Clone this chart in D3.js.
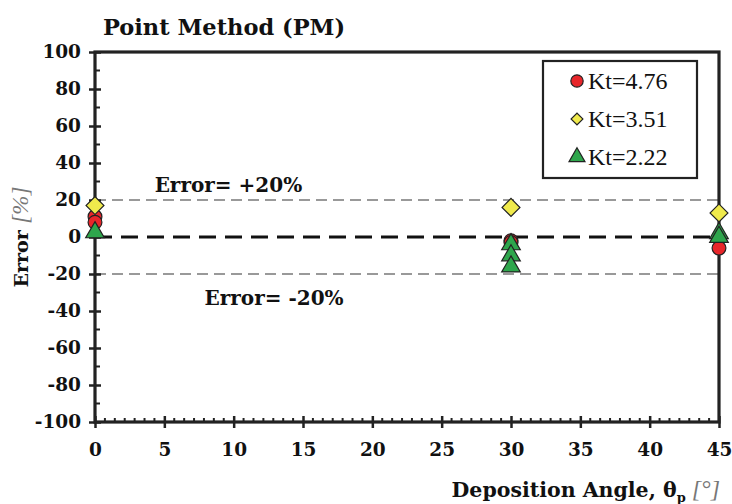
<!DOCTYPE html>
<html>
<head>
<meta charset="utf-8">
<script src="https://cdn.jsdelivr.net/npm/d3@7"></script>
<style>
  body { margin: 0; background: #fff; }
  text { font-family: "Liberation Serif", "Times New Roman", serif; }
  .bold { font-family: "DejaVu Serif", serif; font-weight: bold; }
</style>
</head>
<body>
<div id="chart"></div>
<script>
// Values
const xTicks = [0, 5, 10, 15, 20, 25, 30, 35, 40, 45];
const yTicks = [-100, -80, -60, -40, -20, 0, 20, 40, 60, 80, 100];

const kt476 = [[0, 11], [0, 8], [30, -2], [30, -3], [45, -6]];
const kt351 = [[0, 17], [30, 16], [45, 13]];
const kt222 = [[0, 2.5], [30, -4], [30, -10], [30, -16], [45, 2], [45, 0]];

const series = [
  { name: "Kt=4.76", data: kt476, shape: "circle", fill: "#e8262a" },
  { name: "Kt=3.51", data: kt351, shape: "diamond", fill: "#f0ea4c" },
  { name: "Kt=2.22", data: kt222, shape: "triangle", fill: "#2ea64c" }
];

let svg = d3.select("#chart").append("svg")
  .attr("width", 732)
  .attr("height", 504);

let margins = { top: 52, right: 13, bottom: 82, left: 95 };
let cw = 732 - margins.left - margins.right;
let ch = 504 - margins.top - margins.bottom;

let x = d3.scaleLinear().domain([0, 45]).range([0, cw]);
let y = d3.scaleLinear().domain([-100, 100]).range([ch, 0]);

let g = svg.append("g")
  .attr("transform", "translate(" + margins.left + "," + margins.top + ")");

// Error bands +/-20 (grey dashed)
[20, -20].forEach(v => {
  g.append("line")
    .attr("x1", 0).attr("x2", cw)
    .attr("y1", y(v)).attr("y2", y(v))
    .attr("stroke", "#999")
    .attr("stroke-width", 2.2)
    .attr("stroke-dasharray", "11,6");
});
// zero line
g.append("line")
  .attr("x1", 0).attr("x2", cw)
  .attr("y1", y(0)).attr("y2", y(0))
  .attr("stroke", "#111")
  .attr("stroke-width", 3.2)
  .attr("stroke-dasharray", "17,9");

g.append("text").attr("class", "bold")
  .attr("x", x(4.3)).attr("y", y(20) - 8)
  .attr("font-size", 20)
  .attr("fill", "#111")
  .text("Error= +20%");
g.append("text").attr("class", "bold")
  .attr("x", x(7.9)).attr("y", y(-20) + 31)
  .attr("font-size", 20)
  .attr("fill", "#111")
  .text("Error= -20%");

// Minor ticks (inside)
let xMinor = d3.range(0, 45, 5 / 7).filter((d, i) => i % 7 !== 0);
xMinor.forEach(d => {
  g.append("line")
    .attr("x1", x(d)).attr("x2", x(d))
    .attr("y1", ch).attr("y2", ch - 4)
    .attr("stroke", "#222").attr("stroke-width", 2);
});
d3.range(-90, 100, 20).forEach(d => {
  g.append("line")
    .attr("x1", 0).attr("x2", 5)
    .attr("y1", y(d)).attr("y2", y(d))
    .attr("stroke", "#222").attr("stroke-width", 2);
});

// Axes
let xAxis = g.append("g")
  .attr("transform", "translate(0," + ch + ")")
  .call(d3.axisBottom(x).tickValues(xTicks).tickFormat(d => String(d)).tickSize(6).tickSizeOuter(0));
let yAxis = g.append("g")
  .call(d3.axisLeft(y).tickValues(yTicks).tickFormat(d => String(d)).tickSize(6).tickSizeOuter(0));

[xAxis, yAxis].forEach(a => {
  a.select(".domain").remove();
  a.selectAll(".tick line").attr("stroke", "#222").attr("stroke-width", 2.5);
  a.selectAll(".tick text")
    .attr("class", "bold")
    .attr("font-size", 18.5)
    .attr("fill", "#111");
});
xAxis.selectAll(".tick line").attr("y1", -6);
xAxis.selectAll(".tick text").attr("y", 21).attr("dy", "0.71em");
yAxis.selectAll(".tick line").attr("x1", 6);
yAxis.selectAll(".tick text").attr("x", -14);

// Frame
g.append("rect")
  .attr("x", 0).attr("y", 0)
  .attr("width", cw).attr("height", ch)
  .attr("fill", "none")
  .attr("stroke", "#222")
  .attr("stroke-width", 3.2);

// Markers
const symbols = {
  circle: d3.symbol().type(d3.symbolCircle).size(150),
  diamond: d3.symbol().type(d3.symbolSquare).size(160),
  triangle: d3.symbol().type(d3.symbolTriangle).size(150)
};
function drawMarker(sel, s) {
  sel.attr("d", symbols[s.shape]())
    .attr("fill", s.fill)
    .attr("stroke", "#222")
    .attr("stroke-width", 1.2);
}
series.forEach(s => {
  g.append("g").selectAll("path")
    .data(s.data)
    .join("path")
    .attr("transform", d => "translate(" + x(d[0]) + "," + y(d[1]) + ")"
      + (s.shape === "diamond" ? " rotate(45)" : ""))
    .call(drawMarker, s);
});

// Legend
let legend = svg.append("g").attr("transform", "translate(543,61)");
legend.append("rect")
  .attr("x", 0).attr("y", 0)
  .attr("width", 154).attr("height", 117)
  .attr("fill", "#fff")
  .attr("stroke", "#222")
  .attr("stroke-width", 2.2);
series.forEach((s, i) => {
  let row = legend.append("g").attr("transform", "translate(34," + (20 + i * 38) + ")");
  let sym = d3.symbol().type(s.shape === "circle" ? d3.symbolCircle
    : s.shape === "diamond" ? d3.symbolSquare : d3.symbolTriangle)
    .size(s.shape === "circle" ? 120 : s.shape === "diamond" ? 70 : 110);
  row.append("path")
    .attr("d", sym())
    .attr("transform", s.shape === "diamond" ? "rotate(45)" : null)
    .attr("fill", s.fill)
    .attr("stroke", "#222")
    .attr("stroke-width", 1.2);
  row.append("text")
    .attr("x", 11).attr("y", 8)
    .attr("font-size", 24)
    .attr("fill", "#111")
    .text(s.name);
});

// Title
svg.append("text").attr("class", "bold")
  .attr("x", 103).attr("y", 35)
  .attr("font-size", 22.5)
  .attr("fill", "#111")
  .text("Point Method (PM)");

// Axis titles
let xt = svg.append("text")
  .attr("x", 720).attr("y", 497)
  .attr("text-anchor", "end")
  .attr("font-size", 20.5)
  .attr("fill", "#111");
xt.append("tspan").attr("class", "bold").text("Deposition Angle, θ");
xt.append("tspan").attr("class", "bold").attr("font-size", 13).attr("dy", 5).text("p");
xt.append("tspan").attr("font-style", "italic").attr("font-size", 24).attr("fill", "#777").attr("dy", -5).text(" [°]");

let yt = svg.append("text")
  .attr("transform", "translate(28," + (margins.top + y(0)) + ") rotate(-90)")
  .attr("text-anchor", "middle")
  .attr("font-size", 23)
  .attr("fill", "#111");
yt.append("tspan").attr("class", "bold").attr("font-size", 19).text("Error ");
yt.append("tspan").attr("font-style", "italic").attr("fill", "#777").text("[%]");
</script>
</body>
</html>
